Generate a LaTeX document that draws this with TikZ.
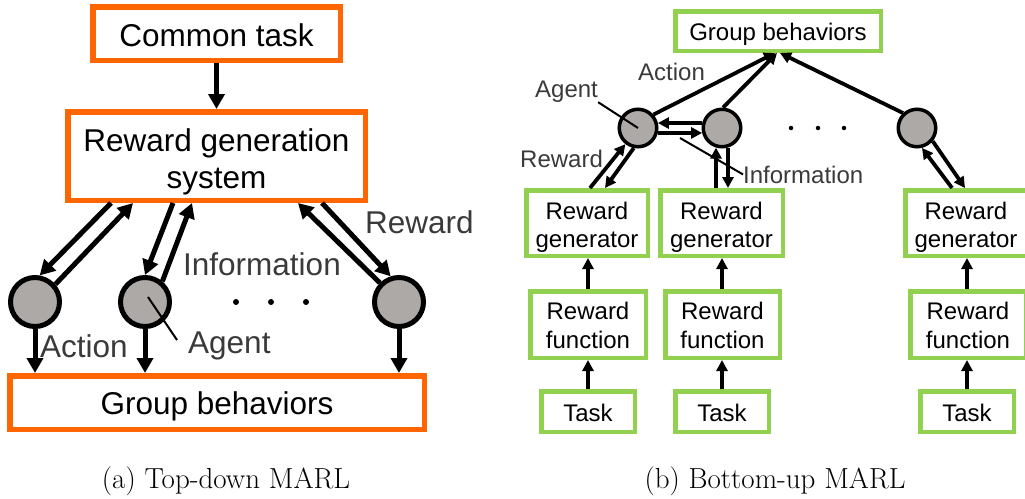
\documentclass[tikz,border=0pt]{standalone}
\usepackage{fontspec}
\newfontfamily\helv{Liberation Sans}
\usetikzlibrary{arrows.meta,calc}

\definecolor{marlorange}{RGB}{255,102,0}
\definecolor{marlgreen}{RGB}{146,208,80}
\definecolor{agentgray}{RGB}{173,169,167}
\definecolor{labelgray}{RGB}{58,58,58}

\tikzset{
  obox/.style={draw=marlorange, line width=5.5pt, fill=white, inner sep=0pt,
    font=\helv\fontsize{31.5}{37}\selectfont, align=center},
  gbox/.style={draw=marlgreen, line width=4.5pt, fill=white, inner sep=0pt,
    font=\helv\fontsize{24}{28.5}\selectfont, align=center},
  twoline/.style={text height=48pt},
  bigagent/.style={circle, draw=black, fill=agentgray, line width=5pt,
    minimum size=49pt, inner sep=0pt},
  smallagent/.style={circle, draw=black, fill=agentgray, line width=3.5pt,
    minimum size=37.5pt, inner sep=0pt},
  bigarr/.style={line width=5pt, -{Triangle[length=15pt,width=16pt]}},
  smallarr/.style={line width=3.8pt, -{Triangle[length=11pt,width=11pt]}},
  biglabel/.style={font=\helv\fontsize{31.5}{37}\selectfont, text=labelgray,
    inner sep=0pt, anchor=base west},
  smalllabel/.style={font=\helv\fontsize{24}{28}\selectfont, text=labelgray,
    inner sep=0pt, anchor=base west},
  pointer/.style={line width=2pt},
  caption/.style={font=\fontsize{29}{33}\selectfont, anchor=base, inner sep=0pt},
  bigdot/.style={circle, fill=black, inner sep=0pt, minimum size=6pt},
  smalldot/.style={circle, fill=black, inner sep=0pt, minimum size=4.5pt}
}

\begin{document}
\begin{tikzpicture}[x=1pt,y=-1pt]
\useasboundingbox (0,0) rectangle (1025,498);

% ---------------- (a) Top-down MARL ----------------
\node[obox, minimum width=247.5, minimum height=53.5, text height=27pt] (common) at (216.5,33.5) {Common task};
\node[obox, minimum width=297.5, minimum height=88.5, text height=72pt] (rgs) at (216.5,156) {Reward generation\\system};
\node[obox, minimum width=414.5, minimum height=53.5, text height=30pt] (gb) at (217,402.5) {Group behaviors};

\node[bigagent] (ag1) at (35,302) {};
\node[bigagent] (ag2) at (145,302) {};
\node[bigagent] (ag3) at (399,302) {};

\node[bigdot] (ldot1) at (236,302) {};
\node[bigdot] (ldot2) at (271,302) {};
\node[bigdot] (ldot3) at (306,302) {};

\draw[bigarr] (common.south) -- (rgs.north);

% reward down, information up
\draw[bigarr] ($(rgs.south west)+(46,0)$) -- (ag1.80);
\draw[bigarr] (ag1.41) -- ($(rgs.south west)+(68,0)$);
\draw[bigarr] ($(rgs.south west)+(108,0)$) -- (ag2.90);
\draw[bigarr] (ag2.50) -- ($(rgs.south west)+(127,0)$);
\draw[bigarr] (ag3.135) -- ($(rgs.south west)+(233,0)$);
\draw[bigarr] ($(rgs.south west)+(257,0)$) -- (ag3.108);

% actions
\draw[bigarr] (ag1.south) -- (ag1.south |- gb.north);
\draw[bigarr] (ag2.south) -- (ag2.south |- gb.north);
\draw[bigarr] (ag3.south) -- (ag3.south |- gb.north);

\node[biglabel] (lrew) at (365,233) {Reward};
\node[biglabel] (linfo) at (183,275) {Information};
\node[biglabel] (lact) at (40,357) {Action};
\node[biglabel] (lagent) at (188,353) {Agent};
\coordinate (lagtip) at (177,340);
\draw[pointer] ($(ag2.center)+(3,-5)$) -- (lagtip);

\node[caption] (capa) at (226,488) {(a) Top-down MARL};

% ---------------- (b) Bottom-up MARL ----------------
\node[gbox, minimum width=205.5, minimum height=39.5, text height=23pt] (gb2) at (778,31) {Group behaviors};

\node[smallagent] (A1) at (638,128) {};
\node[smallagent] (A2) at (722,128) {};
\node[smallagent] (A3) at (917,128) {};

\node[smalldot] (rdot1) at (791,128) {};
\node[smalldot] (rdot2) at (818,128) {};
\node[smalldot] (rdot3) at (844,128) {};

\node[gbox, minimum width=121.5, minimum height=65.5, text height=54pt] (rg1) at (587,223) {Reward\\generator};
\node[gbox, minimum width=122.5, minimum height=65.5, text height=54pt] (rg2) at (721.5,223) {Reward\\generator};
\node[gbox, minimum width=121.5, minimum height=65.5, text height=54pt] (rg3) at (966,223) {Reward\\generator};

\node[gbox, twoline, minimum width=115.5, minimum height=66.5] (rf1) at (588,324.5) {Reward\\function};
\node[gbox, twoline, minimum width=114.5, minimum height=66.5] (rf2) at (722.5,324.5) {Reward\\function};
\node[gbox, twoline, minimum width=115.5, minimum height=66.5] (rf3) at (968,324.5) {Reward\\function};

\node[gbox, minimum width=93.5, minimum height=40.5, text height=20pt] (t1) at (588,411.5) {Task};
\node[gbox, minimum width=93.5, minimum height=40.5, text height=20pt] (t2) at (722,411.5) {Task};
\node[gbox, minimum width=93.5, minimum height=40.5, text height=20pt] (t3) at (967,411.5) {Task};

% task -> function -> generator
\draw[smallarr] (t1.north) -- (t1.north |- rf1.south);
\draw[smallarr] (t2.north) -- (t2.north |- rf2.south);
\draw[smallarr] (t3.north) -- (t3.north |- rf3.south);
\draw[smallarr] (t1.north |- rf1.north) -- (t1.north |- rg1.south);
\draw[smallarr] (t2.north |- rf2.north) -- (t2.north |- rg2.south);
\draw[smallarr] (t3.north |- rf3.north) -- (t3.north |- rg3.south);

% actions to group behaviors
\draw[smallarr] (A1.41) -- ($(gb2.south)+(-3,0)$);
\draw[smallarr] (A2.87) -- ($(gb2.south)+(-1,0)$);
\draw[smallarr] (A3.133) -- ($(gb2.south)+(2,0)$);

% information exchange between agents
\draw[smallarr] (A2.166) -- (A1.14);
\draw[smallarr] (A1.-14) -- (A2.194);

% reward up, information down
\draw[smallarr] ($(rg1.north)+(3,0)$) -- (A1.232);
\draw[smallarr] (A1.258) -- ($(rg1.north)+(18,0)$);
\draw[smallarr] (A2.253 |- rg2.north) -- (A2.253);
\draw[smallarr] (A2.287) -- (A2.287 |- rg2.north);
\draw[smallarr] ($(rg3.north)+(-14,0)$) -- (A3.284);
\draw[smallarr] (A3.320) -- ($(rg3.north)+(-1,0)$);

\node[smalllabel] (ract) at (638,80) {Action};
\node[smalllabel] (rrew) at (520,167) {Reward};
\node[smalllabel] (ragent) at (535,97) {Agent};
\node[smalllabel] (rinfo) at (743,183) {Information};
\coordinate (rinfotail) at (680,138);
\draw[pointer] (ragent.south east) -- (A1.center);
\draw[pointer] (rinfotail) -- (rinfo.west);

\node[caption] (capb) at (775,488) {(b) Bottom-up MARL};
\end{tikzpicture}
\end{document}
